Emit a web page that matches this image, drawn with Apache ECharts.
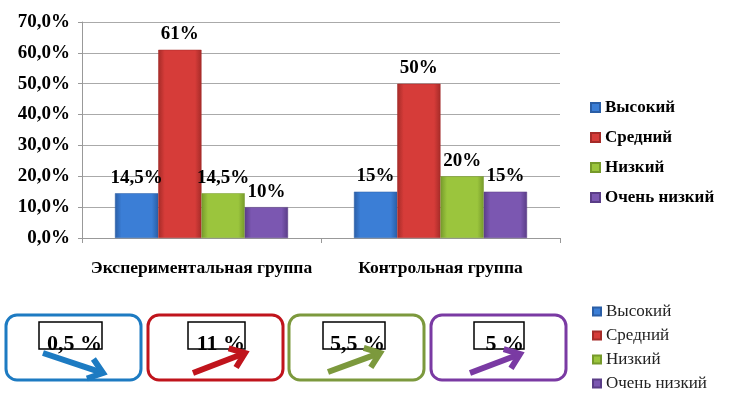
<!DOCTYPE html>
<html>
<head>
<meta charset="utf-8">
<script src="https://cdn.jsdelivr.net/npm/echarts@6/dist/echarts.min.js"></script>
<style>
html,body{margin:0;padding:0;background:#fff;}
#main{width:730px;height:399px;}
</style>
</head>
<body>
<div id="main"></div>
<script>
// данные диаграммы
var categories = ['Экспериментальная группа', 'Контрольная группа'];
var levels = ['Высокий', 'Средний', 'Низкий', 'Очень низкий'];
var high = [14.5, 15];     // Высокий
var middle = [61, 50];     // Средний
var low = [14.5, 20];      // Низкий
var veryLow = [10, 15];    // Очень низкий
var yTicks = [0, 10, 20, 30, 40, 50, 60, 70];
// разница между группами (нижние рамки)
var diffLabels = ['0,5 %', '11 %', '5,5 %', '5 %'];

var serif = '"Liberation Serif", "Times New Roman", serif';
var colors = ['#3b7ed6', '#d63c39', '#9bc53d', '#7b57b1'];
var edges = ['#2a5ea6', '#a52b28', '#769a2b', '#5a3d87'];
var frameColors = ['#1d7bc2', '#c0141c', '#7c993d', '#7a3aa3'];

function grad(i) {
    return new echarts.graphic.LinearGradient(0, 0, 1, 0, [
        {offset: 0, color: edges[i]},
        {offset: 0.15, color: colors[i]},
        {offset: 0.85, color: colors[i]},
        {offset: 1, color: edges[i]}
    ]);
}

function fmt(v) {
    return String(v).replace('.', ',') + '%';
}

// стрелка: линия + уголок
function arrow(x1, y1, x2, y2, color) {
    var a = Math.atan2(y2 - y1, x2 - x1);
    var len = 17, spread = 0.65;
    var p1 = [x2 - len * Math.cos(a - spread), y2 - len * Math.sin(a - spread)];
    var p2 = [x2 - len * Math.cos(a + spread), y2 - len * Math.sin(a + spread)];
    return [
        {type: 'line', shape: {x1: x1, y1: y1, x2: x2 - 2 * Math.cos(a), y2: y2 - 2 * Math.sin(a)},
            style: {stroke: color, lineWidth: 6}},
        {type: 'polyline', shape: {points: [p1, [x2, y2], p2]},
            style: {stroke: color, lineWidth: 6, fill: null, lineJoin: 'miter'}}
    ];
}

function buildGraphic() {
    var boxX = [6, 148, 289, 431];
    var innerX = [39, 188, 323, 474];
    var innerW = [63, 57, 62, 50];
    var arrows = [
        [43, 353, 103, 373],
        [193, 373, 245, 353],
        [328, 372, 380, 353],
        [470, 373, 520, 354]
    ];
    var els = [];
    for (var i = 0; i < 4; i++) {
        els.push({type: 'rect', shape: {x: boxX[i], y: 315, width: 135, height: 65, r: 11},
            style: {stroke: frameColors[i], lineWidth: 3, fill: null}});
        els.push({type: 'rect', shape: {x: innerX[i], y: 322, width: innerW[i], height: 27},
            style: {stroke: '#000', lineWidth: 1.5, fill: null}});
        els.push({type: 'text', style: {text: diffLabels[i], x: innerX[i] + innerW[i], y: 355,
            textAlign: 'right', textVerticalAlign: 'bottom', fill: '#000',
            font: 'bold 22px ' + serif}});
        var a = arrows[i];
        els = els.concat(arrow(a[0], a[1], a[2], a[3], frameColors[i]));
    }
    return els;
}

var seriesData = [high, middle, low, veryLow];

var myChart = echarts.init(document.getElementById('main'), null, {renderer: 'canvas'});
var option = {
    animation: false,
    color: colors,
    grid: {left: 82, right: 170, top: 22, bottom: 161, containLabel: false},
    legend: [
        {
            data: levels, orient: 'vertical', left: 585, top: 94,
            icon: 'rect', itemWidth: 9, itemHeight: 9, itemGap: 13,
            textStyle: {fontFamily: serif, fontWeight: 'bold', fontSize: 17, color: '#000'}
        },
        {
            data: levels, orient: 'vertical', left: 587, top: 298,
            icon: 'rect', itemWidth: 8, itemHeight: 8, itemGap: 7,
            textStyle: {fontFamily: serif, fontSize: 17, color: '#222'}
        }
    ],
    xAxis: {
        type: 'category',
        data: categories,
        axisLine: {lineStyle: {color: '#999'}},
        axisTick: {show: true, length: 5, lineStyle: {color: '#999'}},
        axisLabel: {interval: 0, margin: 21, fontFamily: serif, fontWeight: 'bold', fontSize: 17.5, color: '#000'}
    },
    yAxis: {
        type: 'value',
        min: yTicks[0],
        max: yTicks[yTicks.length - 1],
        interval: 10,
        axisLine: {show: true, lineStyle: {color: '#999'}},
        axisTick: {show: true, length: 4, lineStyle: {color: '#999'}},
        splitLine: {lineStyle: {color: '#aaa'}},
        axisLabel: {
            margin: 12, fontFamily: serif, fontWeight: 'bold', fontSize: 19, color: '#000',
            formatter: function (v) { return v.toFixed(1).replace('.', ',') + '%'; }
        }
    },
    series: levels.map(function (name, i) {
        return {
            name: name,
            type: 'bar',
            data: seriesData[i],
            barGap: '0%',
            barCategoryGap: '27.6%',
            itemStyle: {color: grad(i), borderColor: edges[i], borderWidth: 0.5},
            label: {
                show: true, position: 'top', distance: 6,
                fontFamily: serif, fontWeight: 'bold', fontSize: 19, color: '#000',
                formatter: function (p) { return fmt(p.value); }
            }
        };
    }),
    graphic: buildGraphic()
};
myChart.setOption(option);
</script>
</body>
</html>
